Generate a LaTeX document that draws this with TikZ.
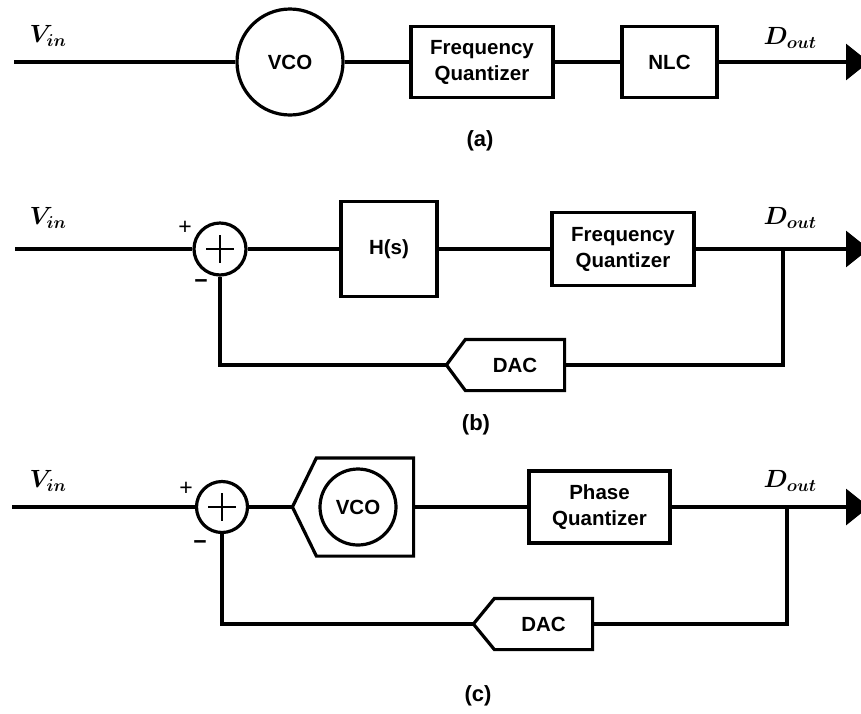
\documentclass[tikz,border=0pt]{standalone}
\usepackage{fontspec}
\setmainfont{Liberation Sans}
\usepackage{amsmath}
\usetikzlibrary{arrows.meta,calc}
\begin{document}
\begin{tikzpicture}[x=1pt,y=-1pt,line width=3.2pt,
  blk/.style={draw,rectangle,inner sep=0pt,align=center,font=\fontsize{20.5}{26}\selectfont\bfseries},
  circ/.style={draw,circle,inner sep=0pt,font=\fontsize{20.5}{22}\selectfont\bfseries},
  body/.style={rectangle,inner sep=0pt,font=\fontsize{20.5}{22}\selectfont\bfseries},
  sig/.style={inner sep=0pt,font=\fontsize{25}{28}\selectfont\boldmath},
  captext/.style={inner sep=0pt,font=\fontsize{22}{24}\selectfont\bfseries},
  pm/.style={inner sep=0pt,font=\fontsize{23}{24}\selectfont},
  outarrow/.style={-{Triangle[length=23pt,width=36pt]}}]
\useasboundingbox (0,0) rectangle (861,713);

% ---------------- (a)
\coordinate (ina) at (14,62);
\node[circ,minimum size=106pt] (vcoa) at (290,62) {VCO};
\node[blk,minimum width=142pt,minimum height=71pt] (fqa) at (482,62) {Frequency\\Quantizer};
\node[blk,minimum width=95pt,minimum height=71pt] (nlc) at (669.5,62) {NLC};
\coordinate (outa) at (869,62);
\draw (ina) -- (vcoa);
\draw (vcoa) -- (fqa);
\draw (fqa) -- (nlc);
\draw[outarrow] (nlc) -- (outa);
\node[sig] (vina) at (48,36) {$V_{in}$};
\node[sig] (douta) at (790,38) {$D_{out}$};
\node[captext] (capa) at (480,141) {(a)};

% ---------------- (b)
\coordinate (inb) at (15,249);
\node[circ,minimum size=52pt] (sumb) at (220,249) {};
\draw[line width=2.8pt] ($(sumb)+(-14,0)$) -- ($(sumb)+(14,0)$);
\draw[line width=2.8pt] ($(sumb)+(0,-14)$) -- ($(sumb)+(0,14)$);
\node[blk,minimum width=96pt,minimum height=95pt] (hs) at (389,249) {H(s)};
\node[blk,minimum width=142pt,minimum height=73pt] (fqb) at (623,249) {Frequency\\Quantizer};
\coordinate (tapb) at (783,249);
\coordinate (outb) at (869,249);
\node[body,minimum width=96pt,minimum height=48pt] (dacb) at (515,365) {DAC};
\coordinate (dacbtip) at ($(dacb.west)+(-19,0)$);
\draw (dacb.north west) -- (dacb.north east) -- (dacb.south east) -- (dacb.south west) -- (dacbtip) -- cycle;
\draw (inb) -- (sumb);
\draw (sumb) -- (hs);
\draw (hs) -- (fqb);
\draw[outarrow] (fqb) -- (outb);
\draw (tapb) |- (dacb.east);
\draw (dacbtip) -| (sumb.south);
\node[pm] (plusb) at (185,228) {+};
\node[pm] (minusb) at (201,284) {\textbf{−}};
\node[sig] (vinb) at (48,218) {$V_{in}$};
\node[sig] (doutb) at (790,218) {$D_{out}$};
\node[captext] (capb) at (476,425) {(b)};

% ---------------- (c)
\coordinate (inc) at (12,507);
\node[circ,minimum size=51pt] (sumc) at (222,507) {};
\draw[line width=2.8pt] ($(sumc)+(-14,0)$) -- ($(sumc)+(14,0)$);
\draw[line width=2.8pt] ($(sumc)+(0,-14)$) -- ($(sumc)+(0,14)$);
\node[body,minimum width=94pt,minimum height=95pt] (vcoblk) at (365,507) {};
\coordinate (vcotip) at ($(vcoblk.west)+(-24,0)$);
\draw (vcoblk.north west) -- (vcoblk.north east) -- (vcoblk.south east) -- (vcoblk.south west) -- (vcotip) -- cycle;
\node[circ,minimum size=76pt] (vcoc) at (358,507) {VCO};
\node[blk,minimum width=141pt,minimum height=72pt] (pq) at (599.5,507) {Phase\\Quantizer};
\coordinate (tapc) at (787,507);
\coordinate (outc) at (869,507);
\node[body,minimum width=95pt,minimum height=48pt] (dacc) at (543.5,624) {DAC};
\coordinate (dacctip) at ($(dacc.west)+(-21,0)$);
\draw (dacc.north west) -- (dacc.north east) -- (dacc.south east) -- (dacc.south west) -- (dacctip) -- cycle;
\draw (inc) -- (sumc);
\draw (sumc) -- (vcotip);
\draw (vcoblk) -- (pq);
\draw[outarrow] (pq) -- (outc);
\draw (tapc) |- (dacc.east);
\draw (dacctip) -| (sumc.south);
\node[pm] (plusc) at (186,489) {+};
\node[pm] (minusc) at (200,545) {\textbf{−}};
\node[sig] (vinc) at (48,481) {$V_{in}$};
\node[sig] (doutc) at (790,481) {$D_{out}$};
\node[captext] (capc) at (478,696) {(c)};
\end{tikzpicture}
\end{document}
